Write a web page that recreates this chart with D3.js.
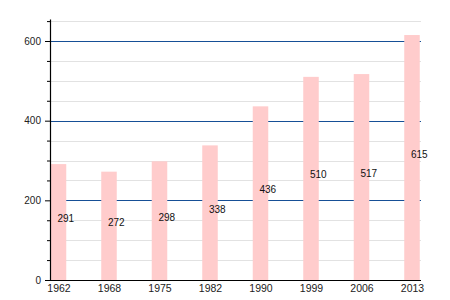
<!DOCTYPE html>
<html lang="en">
<head>
  <meta charset="UTF-8">
  <title>Population</title>
  <script src="https://d3js.org/d3.v7.min.js"></script>
  <style>
    body {
      margin: 0;
      font-family: "Liberation Sans", Arial, sans-serif;
      background: #fff;
    }
    .domain { stroke: #000; stroke-width: 1.2px; }
    .tick text { fill: #222; }
  </style>
</head>
<body>
  <svg id="chart" width="450" height="300"></svg>

  <script>
    // Dane
    const years = ["1962", "1968", "1975", "1982", "1990", "1999", "2006", "2013"];
    const population = [291, 272, 298, 338, 436, 510, 517, 615];
    const majorTicks = [0, 200, 400, 600];
    const minorTicks = d3.range(50, 651, 50).filter(d => d % 200 !== 0);

    const plotLeft = 50, plotRight = 421, plotTop = 21.1, plotBottom = 280;
    const barWidth = 15.5;

    const x = d3.scalePoint()
      .domain(years)
      .range([plotLeft + 8.5, plotRight - 9]);

    const y = d3.scaleLinear()
      .domain([0, 650])
      .range([plotBottom, plotTop]);

    const svg = d3.select("#chart");

    // Pomocnicze linie siatki
    svg.append("g")
      .selectAll("line")
      .data(minorTicks)
      .join("line")
      .attr("x1", plotLeft).attr("x2", plotRight)
      .attr("y1", d => Math.round(y(d)) + 0.5)
      .attr("y2", d => Math.round(y(d)) + 0.5)
      .attr("stroke", "#e2e2e2");

    // Glowne linie siatki
    svg.append("g")
      .selectAll("line")
      .data(majorTicks.slice(1))
      .join("line")
      .attr("x1", plotLeft).attr("x2", plotRight)
      .attr("y1", d => Math.round(y(d)) + 0.5)
      .attr("y2", d => Math.round(y(d)) + 0.5)
      .attr("stroke", "#164f96");

    // Slupki
    svg.append("g")
      .selectAll("rect")
      .data(population)
      .join("rect")
      .attr("x", (d, i) => x(years[i]) - barWidth / 2)
      .attr("y", d => y(d))
      .attr("width", barWidth)
      .attr("height", d => plotBottom - y(d))
      .attr("fill", "#ffcccc");

    // Etykiety wartosci
    svg.append("g")
      .selectAll("text")
      .data(population)
      .join("text")
      .attr("x", (d, i) => x(years[i]) - 1)
      .attr("y", d => (y(d) + plotBottom) / 2)
      .attr("font-size", 10)
      .attr("fill", "#111")
      .text(d => d);

    // Os Y - male kreski
    svg.append("g")
      .attr("transform", `translate(${plotLeft},0)`)
      .call(d3.axisLeft(y).tickValues(minorTicks).tickSize(3).tickFormat(""))
      .call(g => g.select(".domain").remove());

    // Os Y
    svg.append("g")
      .attr("transform", `translate(${plotLeft},0)`)
      .call(d3.axisLeft(y).tickValues(majorTicks).tickSize(5).tickSizeOuter(0).tickPadding(4))
      .call(g => g.select(".domain").attr("d", `M0.5,${plotBottom}V${plotTop - 1.5}`))
      .call(g => g.selectAll("text").attr("font-size", 10).attr("font-family", "Liberation Sans, Arial, sans-serif"));

    // Os X
    svg.append("g")
      .attr("transform", `translate(0,${plotBottom})`)
      .call(d3.axisBottom(x).tickSize(0).tickSizeOuter(0).tickPadding(5))
      .call(g => g.select(".domain").attr("d", `M${plotLeft},0.5H${plotRight}`))
      .call(g => g.selectAll("text").attr("font-size", 10.5).attr("font-family", "Liberation Sans, Arial, sans-serif"));
  </script>
</body>
</html>
